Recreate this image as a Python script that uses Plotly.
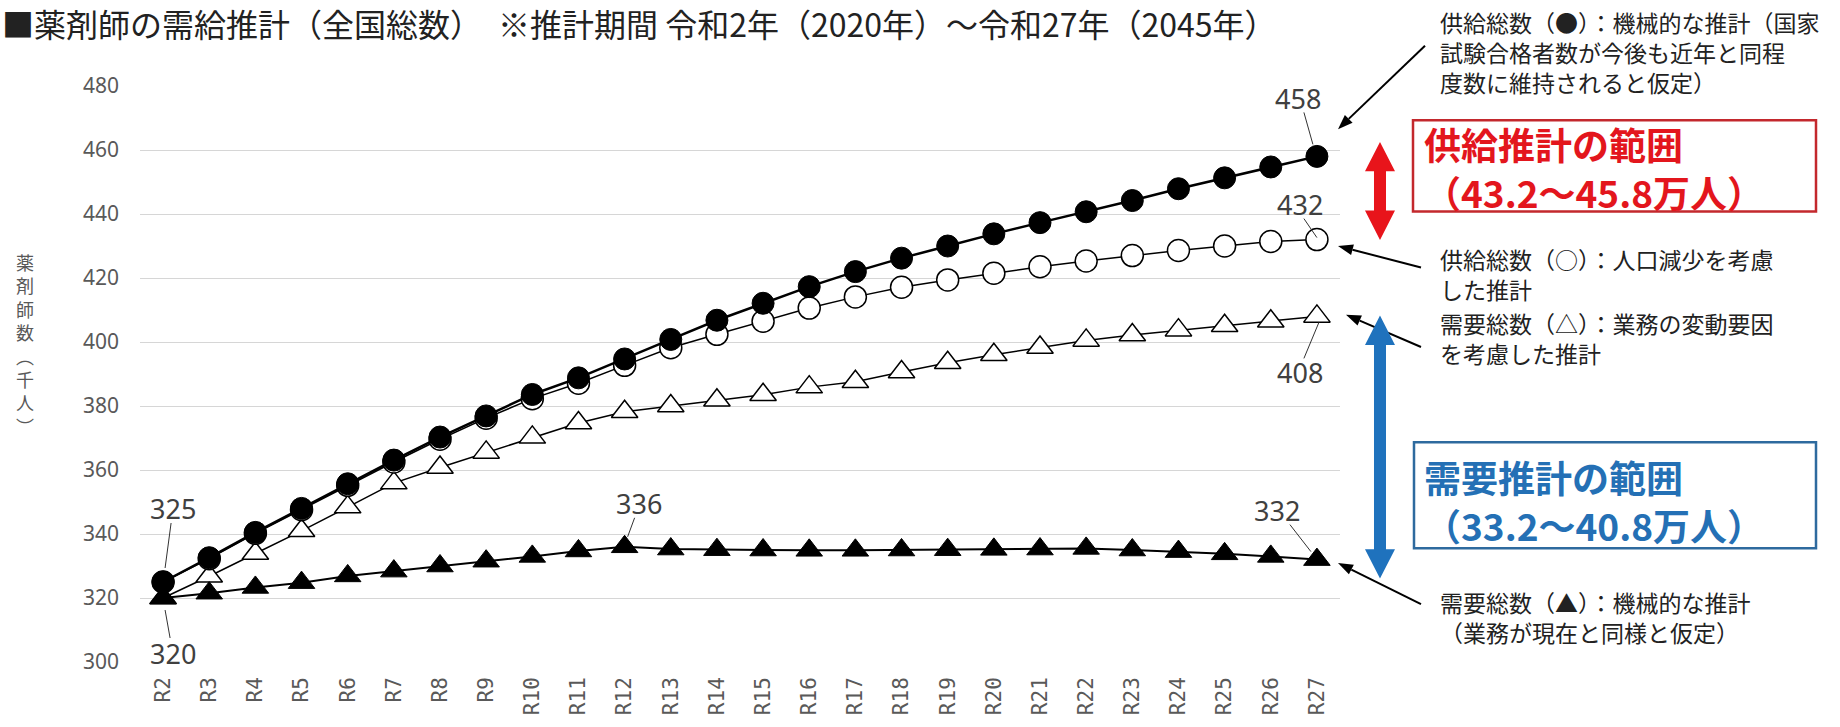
import math
import plotly.graph_objects as go

# ---- data (thousand pharmacists) ----
categories = ["R2", "R3", "R4", "R5", "R6", "R7", "R8", "R9", "R10", "R11", "R12", "R13", "R14",
              "R15", "R16", "R17", "R18", "R19", "R20", "R21", "R22", "R23", "R24", "R25", "R26", "R27"]

# supply total (●): mechanical estimate
supply_mech = [325, 332.6, 340.5, 348.0, 355.7, 363.1, 370.3, 376.9, 383.6, 388.8, 394.7, 400.8, 406.8,
               412.1, 417.3, 422.0, 426.2, 430.0, 433.8, 437.3, 440.7, 444.2, 447.9, 451.3, 454.7, 458]
# supply total (○): population decline considered
supply_pop = [325, 332.3, 340.2, 347.6, 355.2, 362.5, 369.6, 376.2, 382.3, 387.1, 392.7, 398.2, 402.4,
              406.5, 410.6, 414.1, 417.1, 419.4, 421.5, 423.5, 425.3, 427.0, 428.6, 430.0, 431.4, 432]
# demand total (△): workload change factors considered
demand_var = [320, 326.8, 333.9, 341.0, 348.4, 355.9, 360.8, 365.5, 370.2, 374.7, 378.2, 380.0, 381.8,
              383.5, 385.9, 387.6, 390.6, 393.5, 396.0, 398.3, 400.5, 402.2, 403.7, 405.1, 406.5, 408]
# demand total (▲): mechanical estimate
demand_mech = [320, 321.5, 323.3, 324.8, 326.9, 328.4, 330.0, 331.5, 333.0, 334.7, 336, 335.3, 335.1,
               335.0, 334.9, 334.9, 335.0, 335.1, 335.2, 335.3, 335.5, 335.0, 334.5, 333.8, 333.0, 332]

y_ticks = [300, 320, 340, 360, 380, 400, 420, 440, 460, 480]

# ---- page geometry ----
W, H = 1840, 727
L, R, T, B = 140, 500, 86, 54
PW, PH = W - L - R, H - T - B

JP = "Noto Sans CJK JP"


def px(x):
    return (x - L) / PW


def py(y):
    return (H - B - y) / PH


fig = go.Figure()

fig.add_trace(go.Scatter(
    x=categories, y=demand_var, mode="lines+markers",
    line=dict(color="black", width=1.5),
    marker=dict(symbol="triangle-up", size=23, color="white", line=dict(color="black", width=1.5))))
fig.add_trace(go.Scatter(
    x=categories, y=supply_pop, mode="lines+markers",
    line=dict(color="black", width=1.5),
    marker=dict(symbol="circle", size=22, color="white", line=dict(color="black", width=1.5))))
fig.add_trace(go.Scatter(
    x=categories, y=supply_mech, mode="lines+markers",
    line=dict(color="black", width=2.5),
    marker=dict(symbol="circle", size=22, color="black", line=dict(color="black", width=1))))
fig.add_trace(go.Scatter(
    x=categories, y=demand_mech, mode="lines+markers",
    line=dict(color="black", width=2),
    marker=dict(symbol="triangle-up", size=23, color="black", line=dict(color="black", width=1))))


# ---- value labels with leader lines (offsets in screen pixels, y downward) ----
def value_label(series, idx, label_off, lead_from, lead_to):
    xc, yv = categories[idx], series[idx]
    fig.add_annotation(
        x=xc, y=yv, xref="x", yref="y", text=f"{yv:g}", showarrow=False,
        xshift=label_off[0], yshift=-label_off[1],
        font=dict(family="Noto Sans", size=27, color="#404040"))
    fig.add_shape(
        type="line", xref="x", yref="y", xsizemode="pixel", ysizemode="pixel",
        xanchor=xc, yanchor=yv,
        x0=lead_from[0], y0=-lead_from[1], x1=lead_to[0], y1=-lead_to[1],
        line=dict(color="#333333", width=1), layer="above")


value_label(supply_mech, 0, (10, -74), (8, -59), (2, -14))
value_label(demand_mech, 0, (10, 55), (2, 12), (7, 40))
value_label(demand_mech, 10, (14, -43), (10, -29), (3, -10))
value_label(supply_mech, 25, (-19, -58), (-13, -44), (-4, -12))
value_label(supply_pop, 25, (-17, -35), (-13, -21), (0, -2))
value_label(demand_var, 25, (-17, 56), (-13, 42), (2, 6))
value_label(demand_mech, 25, (-40, -49), (-27, -35), (-6, -8))

# ---- title ----
fig.add_annotation(
    x=px(0), y=py(22), xref="paper", yref="paper", xanchor="left", yanchor="middle",
    text="■薬剤師の需給推計（全国総数）　※推計期間 令和2年（2020年）～令和27年（2045年）",
    showarrow=False, font=dict(family=JP, size=32, color="#222222"))

# ---- vertical y-axis title (upright characters, stacked) ----
ytitle = "薬剤師数︵千人︶"
fig.add_annotation(
    x=px(25), y=py(349), xref="paper", yref="paper", xanchor="center", yanchor="middle",
    text="<br>".join(ytitle), showarrow=False, align="center",
    font=dict(family=JP, size=18, color="#595959"))

# ---- explanatory notes (multi-line blocks, centre y) ----
notes = [
    ("供給総数（●）：機械的な推計（国家<br>試験合格者数が今後も近年と同程<br>度数に維持されると仮定）", 51),
    ("供給総数（○）：人口減少を考慮<br>した推計", 278),
    ("需要総数（△）：業務の変動要因<br>を考慮した推計", 343),
    ("需要総数（▲）：機械的な推計<br>（業務が現在と同様と仮定）", 627),
]
for txt, yc in notes:
    fig.add_annotation(
        x=px(1438), y=py(yc), xref="paper", yref="paper",
        xanchor="left", yanchor="middle", align="left", text=txt, showarrow=False,
        font=dict(family=JP, size=23, color="#222222"))


# ---- pointer arrows from the notes to the series ends (tip, tail) ----
def pointer(tip, tail, head_len=15, head_w=11, width=2):
    (tx, ty), (sx, sy) = tip, tail
    d = math.hypot(sx - tx, sy - ty)
    ux, uy = (sx - tx) / d, (sy - ty) / d
    bx, by = tx + ux * head_len, ty + uy * head_len
    fig.add_shape(type="line", xref="paper", yref="paper",
                  x0=px(sx), y0=py(sy), x1=px(bx), y1=py(by),
                  line=dict(color="black", width=width))
    nx, ny = -uy, ux
    pts = [(tx, ty), (bx + nx * head_w / 2, by + ny * head_w / 2),
           (bx - nx * head_w / 2, by - ny * head_w / 2)]
    path = "M " + " L ".join(f"{px(a):.5f},{py(b):.5f}" for a, b in pts) + " Z"
    fig.add_shape(type="path", path=path, xref="paper", yref="paper",
                  fillcolor="black", line=dict(width=0))


pointer((1338, 130), (1425, 45))
pointer((1338, 249), (1421, 271))
pointer((1346, 319), (1421, 352))
pointer((1338, 572), (1421, 614))


# ---- range boxes and double arrows ----
def double_arrow(xc, y0, y1, shaft, hw, hl, color):
    pts = [(xc, y0), (xc + hw / 2, y0 + hl), (xc + shaft / 2, y0 + hl), (xc + shaft / 2, y1 - hl),
           (xc + hw / 2, y1 - hl), (xc, y1), (xc - hw / 2, y1 - hl), (xc - shaft / 2, y1 - hl),
           (xc - shaft / 2, y0 + hl), (xc - hw / 2, y0 + hl)]
    path = "M " + " L ".join(f"{px(a):.5f},{py(b):.5f}" for a, b in pts) + " Z"
    fig.add_shape(type="path", path=path, xref="paper", yref="paper",
                  fillcolor=color, line=dict(width=0), layer="above")


double_arrow(1380, 143, 243, 12, 30, 30, "#e8141b")
double_arrow(1380, 320, 588, 12, 30, 30, "#1f72bd")

boxes = [
    (1413, 121, 1816, 214, "#c3282d", "#e3161d", "供給推計の範囲<br>（43.2～45.8万人）", 170),
    (1414, 449, 1816, 557, "#2e6a9e", "#2470b5", "需要推計の範囲<br>（33.2～40.8万人）", 509),
]
for x0, y0, x1, y1, edge, tcol, txt, yc in boxes:
    fig.add_shape(type="rect", xref="paper", yref="paper",
                  x0=px(x0), x1=px(x1), y0=py(y0), y1=py(y1),
                  line=dict(color=edge, width=2.5), fillcolor="rgba(0,0,0,0)")
    fig.add_annotation(
        x=px(1422), y=py(yc), xref="paper", yref="paper", xanchor="left", yanchor="middle",
        align="left", text=f"<b>{txt}</b>", showarrow=False,
        font=dict(family=JP, size=37, color=tcol))

fig.update_layout(
    width=W, height=H,
    margin=dict(l=L, r=R, t=T, b=B),
    paper_bgcolor="white", plot_bgcolor="white",
    showlegend=False,
    xaxis=dict(
        type="category", range=[-0.5, len(categories) - 0.5],
        showgrid=False, showline=False, zeroline=False, ticks="",
        tickangle=-90, ticklabelstandoff=10,
        tickfont=dict(family="DejaVu Sans Mono", size=21, color="#595959")),
    yaxis=dict(
        range=[300, 480], tickvals=y_ticks, showgrid=True, gridcolor="#d6d6d6", gridwidth=1.3,
        zeroline=False, showline=False, ticks="", ticklabelstandoff=20,
        tickfont=dict(family="Noto Sans", size=21, color="#595959")),
)

fig.write_html("out.html")
